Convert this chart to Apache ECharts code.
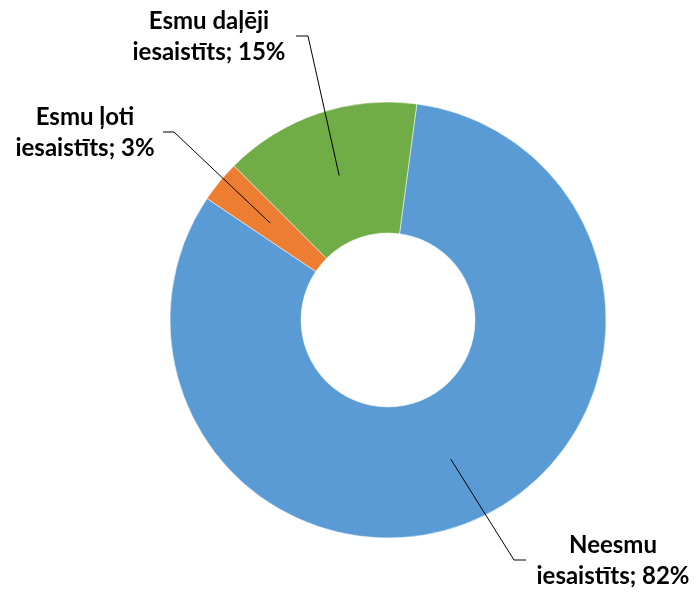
<!DOCTYPE html>
<html>
<head>
<meta charset="utf-8">
<script src="https://cdn.jsdelivr.net/npm/echarts@6/dist/echarts.min.js"></script>
<style>
  html, body { margin: 0; padding: 0; background: #fff; }
  #chart { width: 697px; height: 592px; }
</style>
</head>
<body>
<div id="chart"></div>
<script>
// dati (procenti), secība pulksteņrādītāja virzienā no augšas
var names = ['Neesmu\niesaistīts', 'Esmu ļoti\niesaistīts', 'Esmu daļēji\niesaistīts'];
var values = [82.3, 3.1, 14.6];
var colors = ['#5B9BD5', '#ED7D31', '#70AD47'];

// etiķešu novietojums: līnijas lūzuma punkts, gala punkts, teksta centrs
var labelBend = [[514, 560], [174, 132], [308, 36]];
var labelEnd  = [[526, 560], [163, 132], [296, 36]];
var labelPos  = [[613, 561], [85, 133], [209, 37]];

var cx = 388, cy = 320, rIn = 87, rOut = 218;
var startAngle = 82.4;

var total = values.reduce(function (a, b) { return a + b; }, 0);

// punkts gredzena vidū, segmenta viduslīnijā
function anchor(i) {
    var cum = 0;
    for (var k = 0; k < i; k++) cum += values[k];
    var a = (startAngle - (cum + values[i] / 2) / total * 360) * Math.PI / 180;
    var r = (rIn + rOut) / 2;
    return [cx + r * Math.cos(a), cy - r * Math.sin(a)];
}

var pieData = names.map(function (n, i) {
    return { name: n, value: values[i], itemStyle: { color: colors[i] } };
});

// vadlīnijas virs segmentiem
var leaders = names.map(function (n, i) {
    return {
        type: 'polyline',
        z: 100,
        silent: true,
        shape: { points: [anchor(i), labelBend[i], labelEnd[i]] },
        style: { stroke: '#000', lineWidth: 1, fill: null }
    };
});

var myChart = echarts.init(document.getElementById('chart'));

myChart.setOption({
    animation: false,
    graphic: leaders,
    series: [{
        type: 'pie',
        center: [cx, cy],
        radius: [rIn, rOut],
        startAngle: startAngle,
        clockwise: true,
        avoidLabelOverlap: false,
        itemStyle: {
            borderColor: '#ffffff',
            borderWidth: 0.5
        },
        label: {
            show: true,
            position: 'outside',
            color: '#000',
            fontFamily: 'Lato',
            fontWeight: 'bold',
            fontSize: 24,
            lineHeight: 31,
            align: 'center',
            formatter: function (p) {
                return p.name + '; ' + Math.round(p.value) + '%';
            }
        },
        labelLine: { show: false },
        labelLayout: function (params) {
            var i = params.dataIndex;
            return {
                x: labelPos[i][0],
                y: labelPos[i][1],
                align: 'center',
                verticalAlign: 'middle'
            };
        },
        data: pieData
    }]
});
</script>
</body>
</html>
